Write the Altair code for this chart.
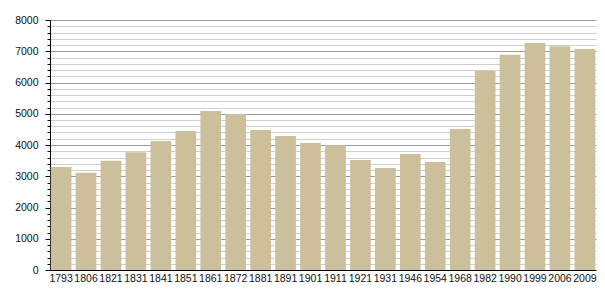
import altair as alt
import pandas as pd

years = ["1793", "1806", "1821", "1831", "1841", "1851", "1861", "1872", "1881", "1891",
         "1901", "1911", "1921", "1931", "1946", "1954", "1968", "1982", "1990", "1999",
         "2006", "2009"]
population = [3300, 3110, 3500, 3765, 4128, 4448, 5088, 4992, 4480, 4288,
              4064, 3989, 3520, 3264, 3712, 3456, 4512, 6368, 6890, 7264,
              7157, 7072]
y_ticks = list(range(0, 8001, 200))

df = pd.DataFrame({"year": years, "pop": population})

chart = alt.Chart(df).mark_bar(color="#cbc09b").encode(
    x=alt.X("year:N", sort=None, title=None,
            scale=alt.Scale(paddingInner=0.17, paddingOuter=0.03),
            axis=alt.Axis(labelAngle=0, tickSize=0, labelPadding=3,
                          labelFont="Liberation Sans", labelFontSize=10.5,
                          labelColor="#111", domainColor="#000", domainWidth=1,
                          grid=False)),
    y=alt.Y("pop:Q", title=None,
            scale=alt.Scale(domain=[0, 8000], nice=False),
            axis=alt.Axis(values=y_ticks,
                          labelExpr="datum.value % 1000 === 0 ? datum.label : ''",
                          format="d",
                          labelFont="Liberation Sans", labelFontSize=10.5,
                          labelColor="#111", labelPadding=7,
                          domainColor="#000", domainWidth=1,
                          tickColor="#000",
                          tickSize={"condition": {"test": "datum.value % 1000 === 0", "value": 5}, "value": 3},
                          grid=True,
                          gridColor={"condition": {"test": "datum.value % 1000 === 0", "value": "#9a9a9a"}, "value": "#cfcfcf"},
                          gridWidth=1)),
).properties(
    width=546, height=250,
    autosize=alt.AutoSizeParams(type="none"),
    padding={"left": 50, "top": 20, "right": 9, "bottom": 30},
    background="white",
).configure_view(stroke=None)

chart.save("out.html", embed_options={"renderer": "svg", "actions": False})
